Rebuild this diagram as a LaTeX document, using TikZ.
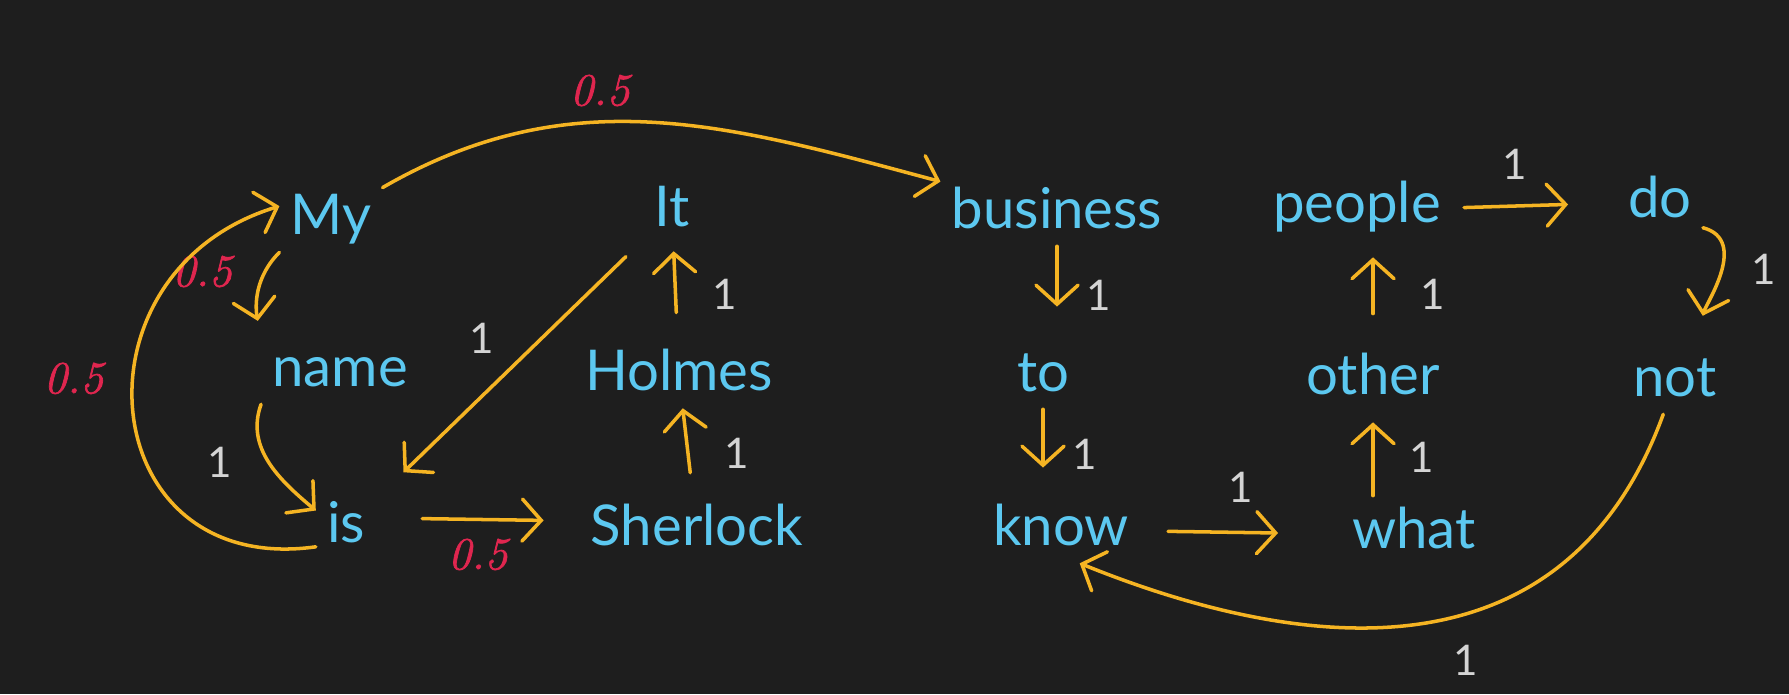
\documentclass[tikz,border=0pt]{standalone}
\usepackage{fontspec}
\usepackage{tikz}
\usetikzlibrary{arrows.meta, calc}
\newfontfamily\handfont{Lato}
\newfontfamily\probfont{Latin Modern Roman}[ItalicFeatures={FakeBold=1.5}]
\definecolor{bgdark}{RGB}{30,30,30}
\definecolor{wordblue}{RGB}{92,200,240}
\definecolor{arrowgold}{RGB}{245,180,35}
\definecolor{probred}{RGB}{224,38,79}
\definecolor{probgray}{RGB}{212,212,212}
\tikzset{
  word/.style={anchor=base, text=wordblue, font=\handfont\fontsize{16}{19}\selectfont, inner xsep=3pt, inner ysep=2pt, text height=11pt, text depth=3pt},
  link/.style={draw=arrowgold, line width=1pt, line cap=round, -{Straight Barb[length=1.9mm, width=4.2mm, line cap=round]}},
  trimmed/.style 2 args={shorten <=#1, shorten >=#2},
  halflabel/.style={text=probred, font=\probfont\itshape\fontsize{13}{15}\selectfont, inner sep=2pt},
  onelabel/.style={text=probgray, font=\handfont\fontsize{12}{14}\selectfont, inner sep=2pt}
}

\begin{document}
\begin{tikzpicture}[x=0.01cm, y=0.01cm]

        % 0. Fondo
        \fill[bgdark] (0,0) rectangle (1789,-694);
        \useasboundingbox (0,0) rectangle (1789,-694);

        % 1. Palabras
        \node[word] (My)       at (331,-234)  {My};
        \node[word] (name)     at (340,-386)  {name};
        \node[word] (is)       at (346,-542)  {is};
        \node[word] (It)       at (672,-226)  {It};
        \node[word] (Holmes)   at (679,-390)  {Holmes};
        \node[word] (Sherlock) at (697,-545)  {Sherlock};
        \node[word] (business) at (1057,-228) {business};
        \node[word] (to)       at (1043,-391) {to};
        \node[word] (know)     at (1061,-545) {know};
        \node[word] (people)   at (1357,-222) {people};
        \node[word] (other)    at (1373,-394) {other};
        \node[word] (what)     at (1414,-548) {what};
        \node[word] (do)       at (1660,-217) {do};
        \node[word] (not)      at (1675,-396) {not};

        % 2. Lado izquierdo
        \draw[link] (My.north east) to[out=30, in=165]
              node[halflabel, pos=0.4, above=2pt] {0.5} (business.north west);
        \draw[link, trimmed={0pt}{1.9mm}] (My.south west) to[out=225, in=100]
              node[halflabel, pos=0.25, left=7pt] {0.5} (name.north west);
        \draw[link] (name.south west) to[out=250, in=140]
              node[onelabel, pos=0.5, left=8pt] {1} (is.150);
        \draw[link] (is.212) to[out=188, in=197, looseness=1.68]
              node[halflabel, pos=0.57, left=6pt] {0.5} (My.165);
        \draw[link, trimmed={4.6mm}{3.6mm}] ([yshift=1mm]is.east) --
              node[halflabel, below=3pt] {0.5} ([yshift=1mm]Sherlock.west);
        \draw[link, trimmed={2.4mm}{3.8mm}] (It) --
              node[onelabel, above left=2pt] {1} (is);
        \draw[link, trimmed={3.1mm}{0.7mm}] (Holmes) --
              node[onelabel, right=8pt] {1} (It);
        \draw[link, trimmed={2.6mm}{0pt}] (Sherlock) --
              node[onelabel, right=8pt] {1} (Holmes);

        % 3. Lado derecho
        \draw[link, trimmed={0pt}{3.8mm}] (business.south) --
              node[onelabel, right=6pt] {1} (business.south |- to.north);
        \draw[link, trimmed={0pt}{3.1mm}] (to.south) --
              node[onelabel, right=6pt] {1} (to.south |- know.north);
        \draw[link, trimmed={2.8mm}{6.3mm}] (know.east) --
              node[onelabel, above=6pt] {1} (what.west);
        \draw[link, trimmed={0.6mm}{1mm}] (other.south |- what.north) --
              node[onelabel, right=8pt] {1} (other.south);
        \draw[link, trimmed={3.4mm}{1.7mm}] (other.north) --
              node[onelabel, right=11pt] {1} (other.north |- people.south);
        \draw[link, trimmed={1.2mm}{4.9mm}] (people.east) --
              node[onelabel, above=5pt, xshift=-2mm] {1} (do.west);
        \draw[link, trimmed={0pt}{3.5mm}] (do.-30) to[out=-15, in=75]
              node[onelabel, pos=0.45, right=6pt] {1} (not.60);
        \draw[link] (not.-110) to[out=-110, in=-22, looseness=1.15]
              node[onelabel, pos=0.5, below right=4pt] {1} (know.-60);

\end{tikzpicture}
\end{document}
